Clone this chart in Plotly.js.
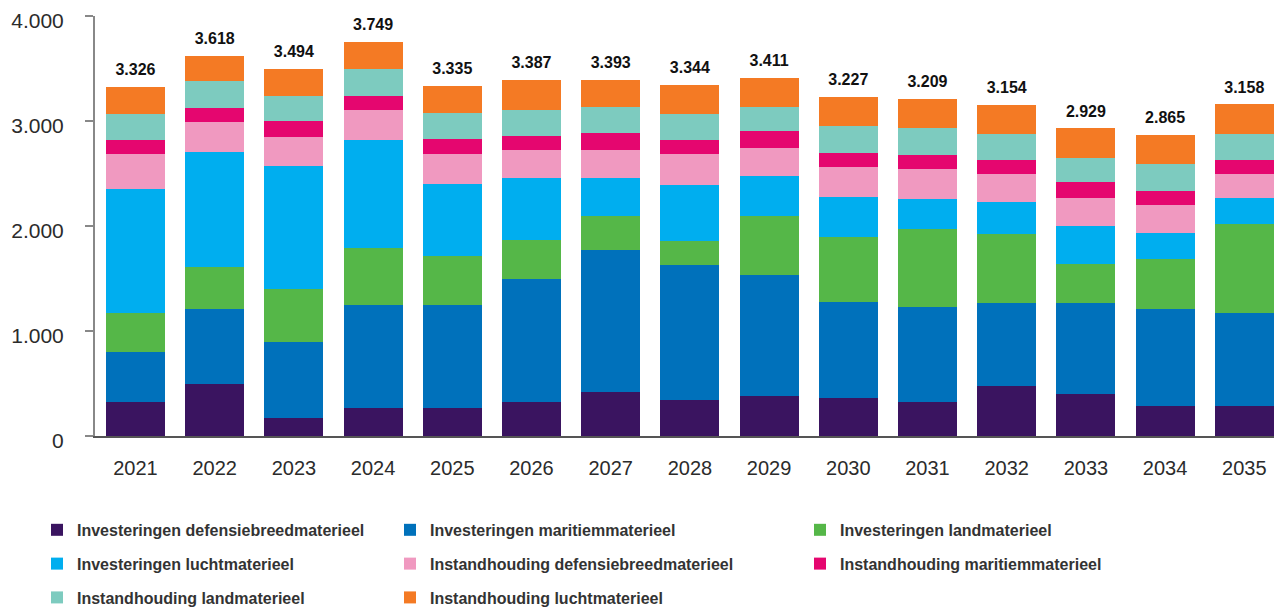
<!DOCTYPE html>
<html>
<head>
<meta charset="utf-8">
<script src="https://cdn.plot.ly/plotly-3.0.1.min.js"></script>
<style>html,body{margin:0;padding:0;background:#fff;}#chart{width:1274px;height:607px;}</style>
</head>
<body>
<div id="chart"></div>
<script>
const years = ['2021','2022','2023','2024','2025','2026','2027','2028','2029','2030','2031','2032','2033','2034','2035'];

const invDefensiebreed = [323, 496, 172, 269, 269, 323, 420, 342, 381, 361, 323, 477, 401, 285, 285];
const invMaritiem      = [480, 711, 728, 979, 981, 1172, 1350, 1288, 1154, 920, 901, 787, 865, 921, 884];
const invLand          = [368, 407, 498, 541, 462, 368, 327, 230, 561, 617, 751, 656, 369, 483, 849];
const invLucht         = [1186, 1095, 1169, 1030, 689, 592, 362, 534, 382, 380, 284, 304, 362, 246, 247];
const instDefensiebreed= [326, 285, 284, 288, 289, 269, 269, 288, 269, 288, 288, 269, 269, 269, 231];
const instMaritiem     = [134, 134, 153, 134, 135, 134, 154, 134, 154, 134, 134, 134, 154, 134, 135];
const instLand         = [249, 253, 233, 253, 250, 250, 250, 249, 231, 249, 249, 250, 231, 249, 250];
const instLucht        = [260, 237, 257, 255, 260, 279, 261, 279, 279, 278, 279, 277, 278, 278, 277];

const totals = [3326, 3618, 3494, 3749, 3335, 3387, 3393, 3344, 3411, 3227, 3209, 3154, 2929, 2865, 3158];

const seriesNames = [
  'Investeringen defensiebreedmaterieel',
  'Investeringen maritiemmaterieel',
  'Investeringen landmaterieel',
  'Investeringen luchtmaterieel',
  'Instandhouding defensiebreedmaterieel',
  'Instandhouding maritiemmaterieel',
  'Instandhouding landmaterieel',
  'Instandhouding luchtmaterieel'
];
const seriesValues = [invDefensiebreed, invMaritiem, invLand, invLucht, instDefensiebreed, instMaritiem, instLand, instLucht];
const seriesColors = ['#3a1460', '#0071bb', '#55b748', '#00aeef', '#f099c0', '#e5066f', '#7dcbbf', '#f47a24'];
const seriesLegend = ['legend', 'legend2', 'legend3', 'legend', 'legend2', 'legend3', 'legend', 'legend2'];

function fmt(v) {
  return String(v).replace(/\B(?=(\d{3})+(?!\d))/g, '.');
}

const traces = seriesNames.map((name, i) => ({
  type: 'bar',
  name: name,
  x: years,
  y: seriesValues[i],
  marker: {color: seriesColors[i], line: {width: 0}},
  legend: seriesLegend[i],
  legendgroup: 'g' + i,
  hoverinfo: 'name+y'
}));

traces.push({
  type: 'scatter',
  mode: 'markers+text',
  x: years,
  y: totals,
  text: totals.map(fmt),
  textposition: 'top center',
  marker: {size: 11, opacity: 0, color: '#fff'},
  textfont: {family: 'Liberation Sans, Arial, sans-serif', size: 16, color: '#111', weight: 'bold'},
  showlegend: false,
  hoverinfo: 'skip',
  cliponaxis: false
});

const legendFont = {family: 'Liberation Sans Narrow, Liberation Sans, Arial, sans-serif', size: 16, color: '#333', weight: 'bold'};
function legendAt(xPx) {
  return {
    xref: 'container', yref: 'container',
    x: xPx / 1274, y: 0.155,
    xanchor: 'left', yanchor: 'top',
    orientation: 'v',
    traceorder: 'grouped',
    tracegroupgap: 10,
    font: legendFont,
    bgcolor: 'rgba(0,0,0,0)',
    borderwidth: 0,
    itemclick: false,
    itemdoubleclick: false
  };
}

const layout = {
  width: 1274,
  height: 607,
  margin: {l: 95, r: 0, t: 16, b: 171, autoexpand: false},
  paper_bgcolor: '#fff',
  plot_bgcolor: '#fff',
  barmode: 'stack',
  bargap: 0.255,
  separators: ',.',
  showlegend: true,
  legend: legendAt(37),
  legend2: legendAt(390),
  legend3: legendAt(800),
  font: {family: 'Liberation Sans, Arial, sans-serif', color: '#333'},
  xaxis: {
    type: 'category',
    range: [-0.511, 14.375],
    showline: true,
    linecolor: '#555',
    linewidth: 2,
    ticks: '',
    showgrid: false,
    zeroline: false,
    tickangle: 0,
    automargin: false,
    tickfont: {size: 20, color: '#2b2b2b'},
    ticklabelstandoff: 13
  },
  yaxis: {
    range: [0, 4000],
    tickvals: [0, 1000, 2000, 3000, 4000],
    ticktext: ['0', '1.000', '2.000', '3.000', '4.000'],
    showline: true,
    linecolor: '#888',
    linewidth: 2,
    ticks: 'outside',
    ticklen: 8,
    tickwidth: 1.5,
    tickcolor: '#888',
    showgrid: false,
    zeroline: false,
    automargin: false,
    tickfont: {size: 21, color: '#2b2b2b'},
    ticklabelstandoff: 17,
    ticklabeloverflow: 'allow',
    ticklabelshift: 5
  }
};

Plotly.newPlot('chart', traces, layout, {displayModeBar: false, staticPlot: true});
</script>
</body>
</html>
